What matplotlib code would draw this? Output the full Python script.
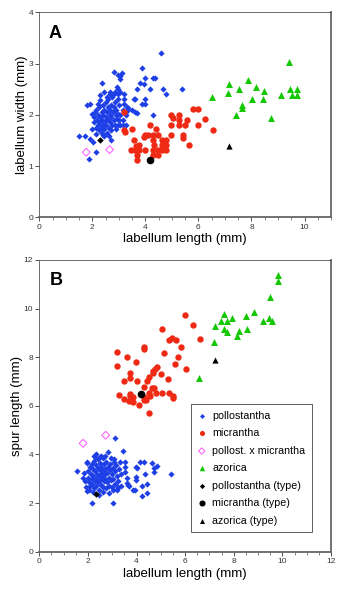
import numpy as np
import matplotlib
matplotlib.use("Agg")
import matplotlib.pyplot as plt
from matplotlib.ticker import MultipleLocator

plt.rcParams['font.family'] = ['Liberation Sans', 'DejaVu Sans']

# ---- labellum length / labellum width (panel A) ----
poll_len_a = [4.58, 3.89, 2.80, 3.13, 3.03, 2.95, 3.06, 2.37, 3.98, 3.78, 4.28, 4.38,
              3.69, 3.93, 4.17, 4.67, 4.78, 5.37, 2.95, 3.99, 3.56, 3.62, 3.87, 3.99,
              4.28, 1.91, 1.78, 1.49, 1.72, 1.92, 2.12, 1.88, 2.70, 2.01, 2.45, 2.66,
              2.80, 2.94, 3.06, 3.19, 3.19, 3.19, 3.30, 3.30, 3.16, 3.17, 3.26, 3.26,
              3.35, 3.48, 3.60, 3.68, 3.17, 3.06, 2.95, 2.85,
              2.05, 2.10, 2.08, 2.12, 2.15, 2.18, 2.20, 2.22, 2.25, 2.25, 2.28, 2.30,
              2.30, 2.32, 2.35, 2.35, 2.38, 2.40, 2.40, 2.42, 2.45, 2.45, 2.48, 2.50,
              2.50, 2.52, 2.55, 2.55, 2.58, 2.60, 2.60, 2.62, 2.65, 2.65, 2.68, 2.70,
              2.72, 2.75, 2.75, 2.78, 2.80, 2.82, 2.85, 2.88, 2.90, 2.92, 2.95, 2.98,
              3.00, 2.95, 2.85, 2.55, 2.20, 2.15, 2.40, 2.62, 2.70, 2.88, 3.00, 3.05,
              2.00, 1.98, 2.28, 2.45, 2.65]
poll_wid_a = [3.21, 2.92, 2.83, 2.81, 2.76, 2.78, 2.70, 2.63, 2.71, 2.63, 2.71, 2.71,
              2.50, 2.60, 2.50, 2.50, 2.40, 2.50, 2.50, 2.30, 2.30, 2.30, 2.21, 2.21,
              2.00, 2.22, 2.20, 1.59, 1.59, 1.53, 1.27, 1.13, 1.51, 1.47, 1.58, 2.45,
              2.40, 2.55, 2.44, 2.40, 2.30, 2.21, 2.16, 2.07, 2.09, 1.90, 2.00, 1.80,
              2.13, 2.09, 2.06, 2.03, 1.80, 1.80, 1.80, 1.80,
              1.95, 2.05, 1.85, 1.75, 2.10, 1.90, 1.80, 2.00, 1.70, 2.15, 1.85, 1.95,
              2.28, 1.75, 2.05, 1.65, 1.90, 2.20, 1.80, 2.00, 1.72, 2.10, 1.88, 2.25,
              1.95, 1.80, 2.05, 1.65, 2.15, 1.90, 2.30, 1.75, 2.00, 2.10, 1.85, 2.20,
              1.95, 2.35, 1.80, 2.05, 2.15, 1.90, 2.25, 2.00, 2.10, 1.92, 2.30, 2.02,
              2.20, 2.40, 2.45, 2.35, 2.22, 1.62, 1.60, 1.58, 1.70, 1.72, 1.90, 2.00,
              1.72, 2.02, 2.38, 2.45, 2.40]

micr_len_a = [3.19, 3.19, 3.22, 3.49, 3.56, 3.76, 3.65, 3.61, 3.45, 3.68, 3.68, 3.76,
              3.98, 3.94, 4.00, 4.08, 4.19, 4.29, 4.39, 4.48, 4.29, 4.27, 4.27, 4.48,
              4.32, 4.48, 4.62, 4.76, 4.62, 4.76, 4.62, 4.76, 4.98, 5.04, 4.98, 5.26,
              5.26, 5.26, 5.48, 5.57, 4.98, 5.40, 5.43, 5.66, 5.78, 5.98, 5.97, 6.25,
              6.56]
micr_wid_a = [2.06, 1.70, 1.67, 1.72, 1.51, 1.41, 1.40, 1.31, 1.31, 1.22, 1.12, 1.31,
              1.31, 1.57, 1.60, 1.61, 1.80, 1.61, 1.72, 1.61, 1.51, 1.31, 1.22, 1.22,
              1.41, 1.31, 1.31, 1.31, 1.41, 1.41, 1.51, 1.51, 2.00, 1.93, 1.80, 2.00,
              1.90, 1.80, 1.80, 1.90, 1.61, 1.61, 1.54, 1.41, 2.11, 2.11, 1.80, 1.91,
              1.71]

hyb_len_a = [1.77, 2.65]
hyb_wid_a = [1.27, 1.32]

azor_len_a = [9.40, 7.88, 7.15, 7.11, 7.53, 8.17, 8.46, 8.42, 8.02, 7.64, 7.64, 7.43,
              6.50, 8.75, 9.13, 9.45, 9.52, 9.72, 9.72]
azor_wid_a = [3.03, 2.68, 2.61, 2.43, 2.50, 2.54, 2.46, 2.30, 2.30, 2.20, 2.14, 2.00,
              2.34, 1.93, 2.39, 2.50, 2.39, 2.50, 2.39]

# type specimens (length, width)
poll_type_a = (2.28, 1.50)
micr_type_a = (4.19, 1.11)
azor_type_a = (7.15, 1.40)

# ---- labellum length / spur length (panel B) ----
poll_len_b = [1.55, 1.81, 1.97, 1.93, 1.97, 2.18, 2.29, 2.50, 2.84, 3.11, 3.44, 3.03,
              3.04, 3.18, 3.25, 3.52, 3.52, 3.51, 3.59, 3.66, 3.70, 3.87, 3.94, 3.98,
              4.00, 4.14, 4.32, 4.21, 4.21, 4.43, 4.43, 4.33, 4.62, 4.73, 4.83, 4.72,
              5.40, 3.98, 3.62, 3.98, 3.21, 3.36, 3.06, 2.53, 2.27, 1.96,
              2.00, 2.02, 2.05, 2.08, 2.10, 2.12, 2.15, 2.15, 2.18, 2.20, 2.22, 2.25,
              2.25, 2.28, 2.30, 2.32, 2.35, 2.35, 2.38, 2.40, 2.40, 2.42, 2.45, 2.45,
              2.48, 2.50, 2.50, 2.52, 2.55, 2.55, 2.58, 2.60, 2.60, 2.62, 2.65, 2.65,
              2.68, 2.70, 2.72, 2.75, 2.75, 2.78, 2.80, 2.82, 2.85, 2.88, 2.90, 2.92,
              2.95, 2.98, 3.00, 3.02, 3.05, 3.08, 3.10, 3.12, 3.15, 3.20, 3.25, 3.28,
              3.30, 3.35, 2.05, 2.20, 2.60, 2.85, 2.35, 2.70, 1.85, 1.90, 2.45, 2.95]
spur_b_poll = [3.32, 3.02, 3.66, 2.65, 2.50, 2.02, 3.91, 3.91, 4.12, 4.68, 4.13, 2.02,
               2.54, 2.54, 2.67, 3.68, 3.50, 3.29, 2.81, 2.76, 2.72, 2.54, 2.54, 3.09,
               3.44, 3.69, 3.69, 2.72, 2.30, 2.80, 2.40, 3.21, 3.64, 3.46, 3.54, 3.29,
               3.21, 3.47, 3.03, 2.96, 2.58, 2.70, 3.69, 3.95, 3.95, 3.69,
               3.30, 3.05, 2.85, 3.50, 2.70, 3.20, 3.00, 3.60, 2.80, 3.40, 3.10, 2.60,
               3.75, 2.90, 3.30, 3.55, 3.00, 2.70, 3.20, 3.80, 2.85, 3.45, 3.10, 2.55,
               3.35, 3.65, 2.95, 3.20, 2.75, 3.50, 3.05, 3.85, 3.30, 2.65, 3.15, 3.60,
               2.90, 3.40, 3.00, 2.60, 3.70, 3.25, 2.85, 3.50, 3.05, 2.70, 3.35, 3.60,
               2.95, 3.20, 2.65, 3.45, 3.00, 3.80, 2.80, 3.30, 3.55, 3.10, 2.90, 3.40,
               3.70, 3.20, 2.55, 2.45, 2.45, 2.40, 4.00, 3.95, 3.25, 2.90, 2.35, 3.85]

micr_len_b = [6.01, 6.34, 6.62, 5.06, 5.32, 5.46, 5.61, 5.83, 5.11, 5.72, 5.60, 6.02,
              5.02, 5.31, 3.21, 3.21, 3.61, 3.98, 4.32, 4.32, 3.73, 3.73, 3.50, 4.00,
              4.42, 4.53, 4.69, 4.77, 4.83, 4.66, 4.32, 4.62, 4.72, 3.26, 3.50, 3.73,
              3.73, 3.84, 3.70, 3.84, 4.11, 4.29, 4.38, 4.29, 4.51, 4.55, 4.79, 5.05,
              5.32, 5.51, 5.51, 4.53]
spur_b_micr = [9.73, 9.31, 8.74, 9.15, 8.72, 8.81, 8.72, 8.41, 8.16, 8.02, 7.71, 7.52,
               7.33, 7.11, 8.22, 7.64, 8.02, 7.81, 8.41, 8.33, 7.34, 7.13, 7.02, 7.02,
               7.02, 7.20, 7.34, 7.52, 7.59, 7.42, 6.79, 6.72, 6.72, 6.43, 6.28, 6.50,
               6.41, 6.38, 6.21, 6.15, 6.02, 6.38, 6.24, 6.24, 6.52, 6.41, 6.52, 6.52,
               6.52, 6.42, 6.34, 5.71]

hyb_len_b = [1.80, 2.73]
spur_b_hyb = [4.46, 4.79]

azor_len_b = [9.50, 7.61, 8.50, 8.83, 7.94, 7.49, 7.73, 7.23, 7.60, 7.71, 8.21, 8.54,
              8.12, 9.21, 9.46, 9.57, 7.19, 6.55, 9.81, 9.81]
spur_b_azor = [10.49, 9.78, 9.70, 9.85, 9.63, 9.49, 9.49, 9.29, 9.18, 9.05, 9.09, 9.16,
               8.89, 9.49, 9.60, 9.49, 8.64, 7.15, 11.37, 11.14]

poll_type_b = (2.35, 2.37)
micr_type_b = (4.20, 6.49)
azor_type_b = (7.23, 7.89)

BLUE = "#1f3fe6"
RED = "#ee2a14"
PINK = "#ff55ff"
GREEN = "#13c800"

fig = plt.figure(figsize=(3.43, 6.0), dpi=100)
ax_a = fig.add_axes([0.1146, 0.6378, 0.8505, 0.3417])
ax_b = fig.add_axes([0.1146, 0.0805, 0.8505, 0.4862])


def draw_panel(ax, d):
    ax.scatter(d["poll"][0], d["poll"][1], marker="D", s=10, color=BLUE, lw=0,
               label="pollostantha", zorder=3)
    ax.scatter(d["micr"][0], d["micr"][1], marker="o", s=21, color=RED, lw=0,
               label="micrantha", zorder=3)
    ax.scatter(d["hyb"][0], d["hyb"][1], marker="D", s=16, facecolor="none",
               edgecolor=PINK, lw=0.7, label="pollost. x micrantha", zorder=3)
    ax.scatter(d["azor"][0], d["azor"][1], marker="^", s=25, color=GREEN, lw=0,
               label="azorica", zorder=3)
    ax.scatter(*d["poll_type"], marker="D", s=11, color="black", lw=0,
               label="pollostantha (type)", zorder=4)
    ax.scatter(*d["micr_type"], marker="o", s=30, color="black", lw=0,
               label="micrantha (type)", zorder=4)
    ax.scatter(*d["azor_type"], marker="^", s=20, color="black", lw=0,
               label="azorica (type)", zorder=4)


def style_axes(ax, xmax, ymax, ystep):
    ax.set_xlim(0, xmax)
    ax.set_ylim(0, ymax)
    ax.xaxis.set_major_locator(MultipleLocator(2))
    ax.xaxis.set_minor_locator(MultipleLocator(0.5))
    ax.yaxis.set_major_locator(MultipleLocator(ystep))
    ax.tick_params(which="major", direction="out", length=3, width=0.6,
                   labelsize=6, pad=1.5, colors="#333333")
    ax.tick_params(which="minor", direction="out", length=1.8, width=0.5,
                   colors="#555555")
    for side in ("left", "top"):
        ax.spines[side].set_linewidth(0.6)
        ax.spines[side].set_color("#555555")
    for side in ("right", "bottom"):
        ax.spines[side].set_linewidth(1.3)
        ax.spines[side].set_color("#666666")


draw_panel(ax_a, {"poll": (poll_len_a, poll_wid_a), "micr": (micr_len_a, micr_wid_a),
                  "hyb": (hyb_len_a, hyb_wid_a), "azor": (azor_len_a, azor_wid_a),
                  "poll_type": poll_type_a, "micr_type": micr_type_a,
                  "azor_type": azor_type_a})
draw_panel(ax_b, {"poll": (poll_len_b, spur_b_poll), "micr": (micr_len_b, spur_b_micr),
                  "hyb": (hyb_len_b, spur_b_hyb), "azor": (azor_len_b, spur_b_azor),
                  "poll_type": poll_type_b, "micr_type": micr_type_b,
                  "azor_type": azor_type_b})

style_axes(ax_a, 11, 4, 1)
style_axes(ax_b, 12, 12, 2)

ax_a.set_xlabel("labellum length (mm)", fontsize=9.5, labelpad=2)
ax_a.set_ylabel("labellum width (mm)", fontsize=9.5, labelpad=0.5)
ax_b.set_xlabel("labellum length (mm)", fontsize=9.5, labelpad=2)
ax_b.set_ylabel("spur length (mm)", fontsize=9.5, labelpad=0.5)

ax_a.text(0.033, 0.94, "A", transform=ax_a.transAxes, fontsize=13,
          fontweight="bold", va="top", ha="left")
ax_b.text(0.036, 0.96, "B", transform=ax_b.transAxes, fontsize=13,
          fontweight="bold", va="top", ha="left")

leg = ax_b.legend(loc="upper left", bbox_to_anchor=(0.52, 0.505), borderaxespad=0,
                  fontsize=7.7, frameon=True, fancybox=False, labelspacing=0.7,
                  handlelength=0.8, handletextpad=0.6, borderpad=0.6,
                  markerscale=0.8)
leg.get_frame().set_edgecolor("#333333")
leg.get_frame().set_linewidth(0.7)

fig.savefig("out.png", dpi=100)
